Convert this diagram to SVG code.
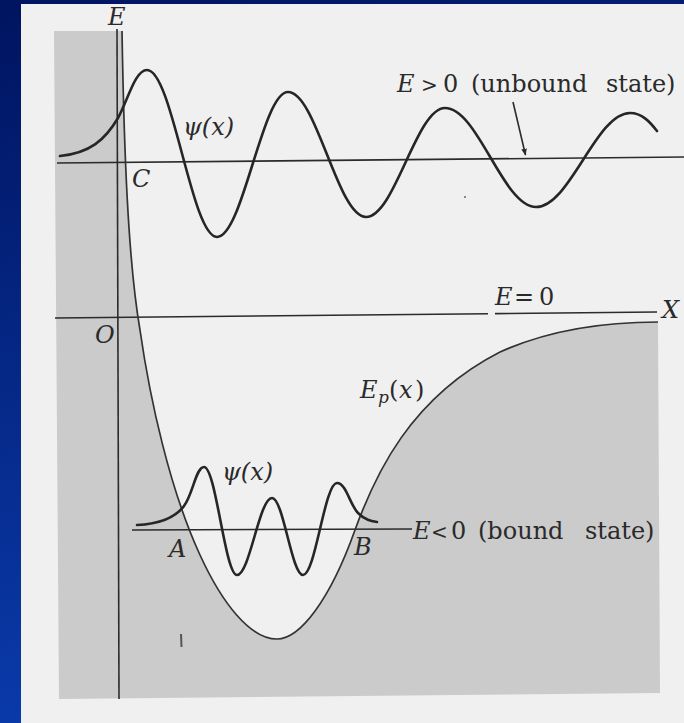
<svg xmlns="http://www.w3.org/2000/svg" width="684" height="723" viewBox="0 0 684 723">
<defs>
<linearGradient id="bg" x1="0" y1="0" x2="0.25" y2="1">
<stop offset="0" stop-color="#001460"/>
<stop offset="1" stop-color="#0a3cae"/>
</linearGradient>
<marker id="ah" viewBox="0 0 10 10" refX="9" refY="5" markerWidth="7" markerHeight="7" markerUnits="userSpaceOnUse" orient="auto">
<path d="M0,1 L10,5 L0,9 Z" fill="#2a2a2a"/>
</marker>
<style>
.ln{stroke:#2b2b2b;stroke-width:1.6;fill:none}
.psi{stroke:#262626;stroke-width:2.6;fill:none;stroke-linecap:round;stroke-linejoin:round}
.pot{stroke:#333333;stroke-width:1.7;fill:none}
.t{font-family:'DejaVu Serif','Liberation Serif',serif;font-size:24px;fill:#2a2a2a}
.i{font-style:italic}
.rel{font-size:20px}
</style>
</defs>
<g id="background">
<rect x="0" y="0" width="684" height="723" fill="url(#bg)"/>
<rect x="21" y="4" width="663" height="719" fill="#f0f0f0"/>
</g>
<g id="shading">
<path d="M54,31 L122,31 C124,150 128,260 140,330 C150,400 170,490 200,555 C222,603 250,639 277,639 C300,639 330,600 355,530 C375,475 410,398 500,352 C560,325 620,322 658,322 L660,693 L59,699 Z" fill="#cbcbcb"/>
</g>
<g id="connectors">
<line class="ln" x1="117" y1="29" x2="119" y2="699"/>
<line class="ln" x1="57" y1="163" x2="684" y2="157"/>
<line class="ln" x1="55" y1="318" x2="488" y2="313.7"/>
<line class="ln" x1="495" y1="313.6" x2="657" y2="312"/>
<line class="ln" x1="132" y1="530" x2="412" y2="529"/>
<line class="ln" x1="513" y1="102" x2="525.5" y2="155" marker-end="url(#ah)"/>
</g>
<g id="potential">
<path class="pot" d="M122,31 C124,150 128,260 140,330 C150,400 170,490 200,555 C222,603 250,639 277,639 C300,639 330,600 355,530 C375,475 410,398 500,352 C560,325 620,322 658,322"/>
</g>
<g id="psi-unbound">
<path class="psi" d="M60,156 C90,153 105,140 118,118 C128,100 135,70 147,70 C172.5,70 191.5,237 217,237 C242.8,237 262.2,92 288,92 C316.4,92 337.6,217 366,217 C394.7,217 416.3,108 445,108 C478,108 503,207 536,207 C570,207 596,113 630,113 C642,113 650,122 657,131"/>
</g>
<g id="psi-bound">
<path class="psi" d="M137,525 C160,524 175,518 184,506 C193,494 196,467 204,467 C216,467 225,575 237,575 C249.7,575 259.3,498 272,498 C283.3,498 291.7,575 303,575 C315.4,575 324.6,483 337,483 C346,483 350,505 358,513 C365,520 371,521 377,522"/>
</g>
<g id="marks">
<line x1="181" y1="634" x2="181.5" y2="647" stroke="#555" stroke-width="2"/>
<circle cx="465" cy="197" r="1" fill="#666"/>
</g>
<g id="labels">
<text class="t i" x="108" y="25">E</text>
<text class="t i" x="183" y="135">ψ(x)</text>
<text class="t i" x="132" y="187">C</text>
<text class="t i" x="95" y="343">O</text>
<text class="t i" x="662" y="318">X</text>
<text class="t" y="305"><tspan class="i" x="495">E</tspan><tspan x="514">=</tspan><tspan x="539">0</tspan></text>
<text class="t" y="92"><tspan class="i" x="397">E</tspan><tspan class="rel" x="421">&gt;</tspan><tspan x="443">0</tspan><tspan x="471">(unbound</tspan><tspan x="606">state)</tspan></text>
<text class="t" y="398"><tspan class="i" x="360">E</tspan><tspan class="i" x="378" dy="5" font-size="17">p</tspan><tspan x="389" dy="-5">(</tspan><tspan class="i" x="399">x</tspan><tspan x="415">)</tspan></text>
<text class="t i" x="222" y="480">ψ(x)</text>
<text class="t i" x="169" y="557">A</text>
<text class="t i" x="354" y="555">B</text>
<text class="t" y="539"><tspan class="i" x="413">E</tspan><tspan class="rel" x="431">&lt;</tspan><tspan x="451">0</tspan><tspan x="478">(bound</tspan><tspan x="585">state)</tspan></text>
</g>
</svg>
